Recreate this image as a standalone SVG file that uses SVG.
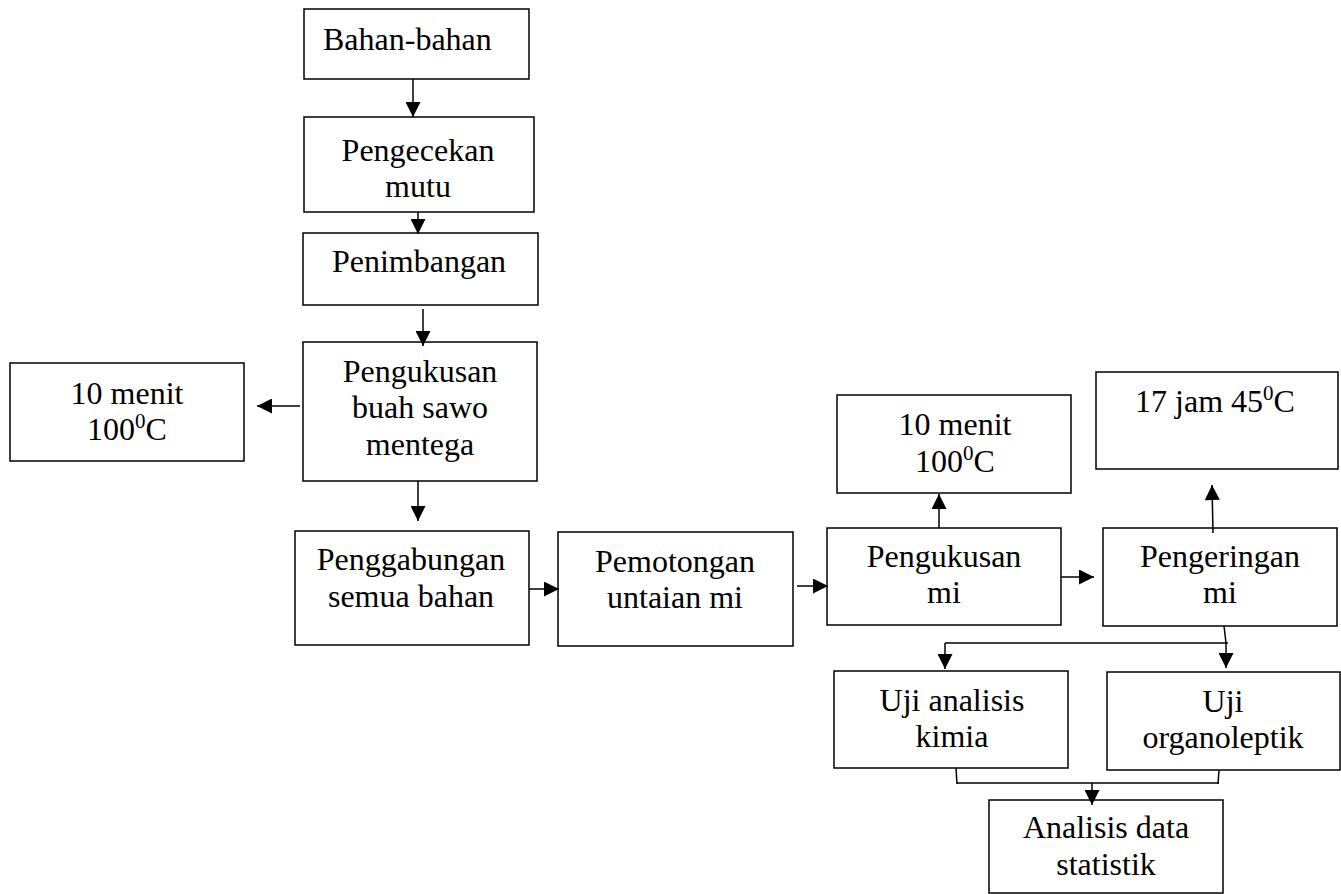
<svg xmlns="http://www.w3.org/2000/svg" width="1341" height="894" viewBox="0 0 1341 894">
<style>
.box{fill:#fff;stroke:#000;stroke-width:1.5}
.t{font-family:"Liberation Serif","Times New Roman",serif;font-size:32px;fill:#000;text-anchor:middle}
.c{fill:none;stroke:#000;stroke-width:1.5}
.a{fill:none;stroke:#000;stroke-width:1.5;marker-end:url(#ah)}
</style>
<defs>
<marker id="ah" viewBox="0 0 10 10" refX="10" refY="5" markerWidth="16" markerHeight="15" markerUnits="userSpaceOnUse" orient="auto">
<path d="M0,0 L10,5 L0,10 z" fill="#000"/>
</marker>
</defs>
<rect width="1341" height="894" fill="#fff"/>
<g id="n1"><rect class="box" x="304" y="9" width="225" height="70"/><text class="t" x="323" y="50" style="text-anchor:start">Bahan-bahan</text></g>
<g id="n2"><rect class="box" x="304" y="117" width="230" height="95"/><text class="t" x="418" y="161">Pengecekan</text><text class="t" x="418" y="197">mutu</text></g>
<g id="n3"><rect class="box" x="303" y="233" width="235" height="72"/><text class="t" x="419" y="272">Penimbangan</text></g>
<g id="n4"><rect class="box" x="303" y="342" width="234" height="139"/><text class="t" x="420" y="382">Pengukusan</text><text class="t" x="420" y="418">buah sawo</text><text class="t" x="420" y="455">mentega</text></g>
<g id="n5"><rect class="box" x="10" y="363" width="234" height="98"/><text class="t" x="127" y="404">10 menit</text><text class="t" x="127" y="440">100<tspan dy="-12" font-size="21">0</tspan><tspan dy="12">C</tspan></text></g>
<g id="n6"><rect class="box" x="295" y="531" width="234" height="114"/><text class="t" x="411" y="570">Penggabungan</text><text class="t" x="411" y="607">semua bahan</text></g>
<g id="n7"><rect class="box" x="558" y="532" width="235" height="114"/><text class="t" x="675" y="572">Pemotongan</text><text class="t" x="675" y="608">untaian mi</text></g>
<g id="n8"><rect class="box" x="827" y="528" width="234" height="97"/><text class="t" x="944" y="567">Pengukusan</text><text class="t" x="944" y="603">mi</text></g>
<g id="n9"><rect class="box" x="837" y="395" width="234" height="98"/><text class="t" x="955" y="435">10 menit</text><text class="t" x="955" y="472">100<tspan dy="-12" font-size="21">0</tspan><tspan dy="12">C</tspan></text></g>
<g id="n10"><rect class="box" x="1103" y="528" width="234" height="98"/><text class="t" x="1220" y="567">Pengeringan</text><text class="t" x="1220" y="603">mi</text></g>
<g id="n11"><rect class="box" x="1096" y="372" width="242" height="97"/><text class="t" x="1215" y="412">17 jam 45<tspan dy="-12" font-size="21">0</tspan><tspan dy="12">C</tspan></text></g>
<g id="n12"><rect class="box" x="834" y="671" width="234" height="97"/><text class="t" x="952" y="711">Uji analisis</text><text class="t" x="952" y="747">kimia</text></g>
<g id="n13"><rect class="box" x="1107" y="672" width="233" height="98"/><text class="t" x="1223" y="712">Uji</text><text class="t" x="1223" y="748">organoleptik</text></g>
<g id="n14"><rect class="box" x="989" y="800" width="234" height="93"/><text class="t" x="1106" y="838">Analisis data</text><text class="t" x="1106" y="875">statistik</text></g>
<g id="connectors">
<line class="a" x1="413" y1="79" x2="413" y2="117"/>
<line class="a" x1="418" y1="212" x2="418" y2="234"/>
<line class="a" x1="423" y1="309" x2="423" y2="346"/>
<line class="a" x1="300" y1="406" x2="257" y2="406"/>
<line class="a" x1="418" y1="481" x2="418" y2="521"/>
<line class="a" x1="529" y1="589" x2="559" y2="589"/>
<line class="a" x1="797" y1="586" x2="828" y2="586"/>
<line class="a" x1="939" y1="528" x2="939" y2="494"/>
<line class="a" x1="1061" y1="577" x2="1094" y2="577"/>
<line class="a" x1="1213" y1="533" x2="1212" y2="485"/>
<line class="c" x1="1224" y1="626" x2="1226" y2="643"/>
<line class="c" x1="945" y1="643" x2="1228" y2="643"/>
<line class="a" x1="945" y1="643" x2="945" y2="669"/>
<line class="a" x1="1226" y1="643" x2="1226" y2="668"/>
<line class="c" x1="956" y1="768" x2="957" y2="784"/>
<line class="c" x1="957" y1="783" x2="1219" y2="783"/>
<line class="c" x1="1219" y1="770" x2="1218" y2="784"/>
<line class="a" x1="1092" y1="783" x2="1092" y2="805"/>
</g>
</svg>
